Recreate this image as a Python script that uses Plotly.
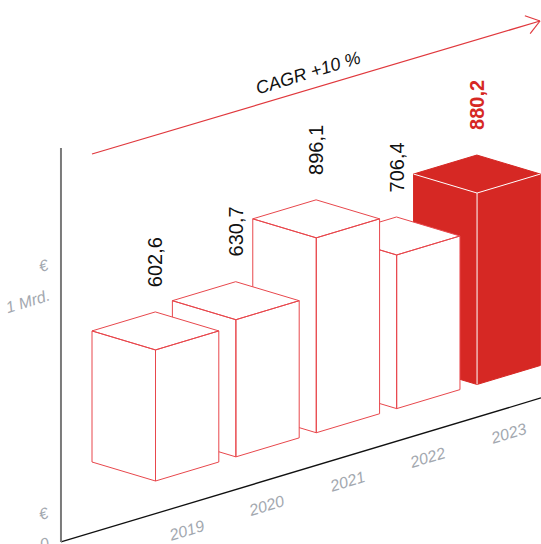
import math
import plotly.graph_objects as go

# Revenue in Mio. €
years = ["2019", "2020", "2021", "2022", "2023"]
revenue = [602.6, 630.7, 896.1, 706.4, 880.2]
value_labels = ["602,6", "630,7", "896,1", "706,4", "880,2"]
highlight_year = "2023"
axis_unit = "€"
axis_ticks = ["0", "1 Mrd."]

W, H = 541, 544
RED = "#D62824"
EDGE = "#E8474C"
GREY = "#A3A8AF"
FONT = "Liberation Sans, Arial, sans-serif"

# Oblique projection: origin at the front-bottom corner of the first bar.
ORIGIN = (155.5, 481.0)
DEPTH = (-63.5, -19.0)    # one bar width going back-left
SERIES = (63.3, -19.0)    # one bar width going back-right
PITCH = 1.27              # bar spacing along the series axis
PX_PER_UNIT = 0.2175      # vertical pixels per Mio. €


def proj(s, d, v=0.0):
    x = ORIGIN[0] + s * SERIES[0] + d * DEPTH[0]
    y = ORIGIN[1] + s * SERIES[1] + d * DEPTH[1] - v * PX_PER_UNIT
    return x, y


def box_faces(i, v):
    s0 = i * PITCH
    f0, l0, r0 = proj(s0, 0), proj(s0, 1), proj(s0 + 1, 0)
    fv, lv, rv, bv = proj(s0, 0, v), proj(s0, 1, v), proj(s0 + 1, 0, v), proj(s0 + 1, 1, v)
    faces = [[f0, l0, lv, fv], [f0, r0, rv, fv], [fv, lv, bv, rv]]
    xs, ys = [], []
    for face in faces:
        for p in face + [face[0]]:
            xs.append(p[0])
            ys.append(p[1])
        xs.append(None)
        ys.append(None)
    return xs, ys, dict(f0=f0, fv=fv, lv=lv, rv=rv, bv=bv)


def italic_label(x, y, text, size, color, **kw):
    return dict(x=x, y=y, text=f"<i>{text}</i>", textangle=-17, showarrow=False,
                font=dict(family=FONT, size=size, color=color), **kw)


fig = go.Figure()
annotations = []

# floor line and value axis
floor_s, floor_d = -2.353, -0.857
fx0, fy0 = proj(floor_s, floor_d)
fx1, fy1 = proj(floor_s + (W - fx0) / SERIES[0], floor_d)
fig.add_trace(go.Scatter(x=[fx0, fx1], y=[fy0, fy1], mode="lines",
                         line=dict(color="#111111", width=1.3), hoverinfo="skip"))
fig.add_trace(go.Scatter(x=[fx0, fx0], y=[fy0, 148], mode="lines",
                         line=dict(color="#7A7A7A", width=2), hoverinfo="skip"))

# bars, drawn back to front so nearer boxes cover farther ones
for i in reversed(range(len(years))):
    xs, ys, c = box_faces(i, revenue[i])
    hi = years[i] == highlight_year
    fig.add_trace(go.Scatter(
        x=xs, y=ys, mode="lines", fill="toself",
        fillcolor=RED if hi else "white",
        line=dict(color=RED if hi else EDGE, width=1),
        hoverinfo="skip"))
    if hi:
        fv, lv, rv, f0 = c["fv"], c["lv"], c["rv"], c["f0"]
        fig.add_trace(go.Scatter(
            x=[lv[0], fv[0], rv[0], None, fv[0], f0[0]],
            y=[lv[1], fv[1], rv[1], None, fv[1], f0[1]],
            mode="lines", line=dict(color="white", width=1), hoverinfo="skip"))
    bv = c["bv"]
    annotations.append(dict(
        x=bv[0], y=bv[1] - 23, text=f"<b>{value_labels[i]}</b>" if hi else value_labels[i],
        textangle=-90, showarrow=False, xanchor="center", yanchor="bottom",
        font=dict(family=FONT, size=20, color=RED if hi else "#111111")))
    f0 = c["f0"]
    annotations.append(italic_label(f0[0] + 31, f0[1] + 49, years[i], 16, GREY,
                                    xanchor="center", yanchor="middle"))

# CAGR arrow
cagr = (revenue[-1] / revenue[0]) ** (1 / (len(revenue) - 1)) - 1
ax0, ay0, ax1, ay1 = 92, 154, 540, 21
fig.add_trace(go.Scatter(x=[ax0, ax1], y=[ay0, ay1], mode="lines",
                         line=dict(color="#E0383D", width=1.2), hoverinfo="skip"))
dx, dy = ax0 - ax1, ay0 - ay1
n = math.hypot(dx, dy)
ux, uy = dx / n, dy / n
wx, wy = [], []
for ang in (0.62, -0.62):
    ca, sa = math.cos(ang), math.sin(ang)
    wx += [ax1 + 16 * (ux * ca - uy * sa), ax1, None]
    wy += [ay1 + 16 * (ux * sa + uy * ca), ay1, None]
fig.add_trace(go.Scatter(x=wx, y=wy, mode="lines",
                         line=dict(color="#E0383D", width=1.2), hoverinfo="skip"))
annotations.append(italic_label(308, 73, f"CAGR +{round(cagr * 100):d} %", 18, "#111111"))

# value-axis labels
for label, ly in zip(axis_ticks, [532, 284]):
    annotations.append(italic_label(54, ly, label, 16, GREY, xanchor="right", yanchor="top"))
    annotations.append(italic_label(54, ly - 6, axis_unit, 16, GREY,
                                    xanchor="right", yanchor="bottom"))

fig.update_layout(
    width=W, height=H, margin=dict(l=0, r=0, t=0, b=0),
    paper_bgcolor="white", plot_bgcolor="white", showlegend=False,
    xaxis=dict(range=[0, W], visible=False, fixedrange=True),
    yaxis=dict(range=[H, 0], visible=False, fixedrange=True),
    annotations=annotations,
)
fig.write_html("out.html", config={"displayModeBar": False})
